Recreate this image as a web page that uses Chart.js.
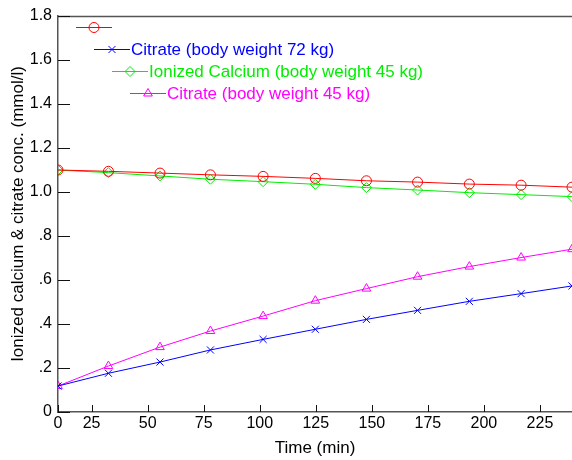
<!DOCTYPE html>
<html>
<head>
<meta charset="utf-8">
<script src="https://cdn.jsdelivr.net/npm/chart.js@4"></script>
<style>
  html, body { margin: 0; padding: 0; background: #fff; }
  #wrap { width: 572px; height: 460px; }
</style>
</head>
<body>
<div id="wrap"><canvas id="myChart"></canvas></div>
<script>
const ctx = document.getElementById('myChart');

// data
const time = [10, 32.5, 55.5, 78, 101.5, 124.8, 147.6, 170.4, 193.5, 216.6, 239.3];
const seriesRed = [1.10, 1.094, 1.086, 1.078, 1.071, 1.062, 1.051, 1.045, 1.036, 1.031, 1.022];
const citrate72 = [0.118, 0.176, 0.227, 0.282, 0.330, 0.376, 0.421, 0.462, 0.503, 0.538, 0.573];
const calcium45 = [1.10, 1.088, 1.073, 1.058, 1.047, 1.035, 1.02, 1.009, 0.997, 0.988, 0.979];
const citrate45 = [0.118, 0.209, 0.295, 0.368, 0.436, 0.506, 0.561, 0.615, 0.661, 0.702, 0.740];

const seriesNames = ['', 'Citrate (body weight 72 kg)', 'Ionized Calcium (body weight 45 kg)', 'Citrate (body weight 45 kg)'];
const xTicks = [10, 25, 50, 75, 100, 125, 150, 175, 200, 225];
const xTickLabels = ['0', '25', '50', '75', '100', '125', '150', '175', '200', '225'];
const yTickLabels = ['0', '.2', '.4', '.6', '.8', '1.0', '1.2', '1.4', '1.6', '1.8'];

const FONT = "'Liberation Sans', Arial, sans-serif";

function pts(ys) {
  return ys.map((y, i) => ({x: time[i], y: y}));
}

function makeSet(label, ys, color, style) {
  return {
    label: label,
    data: pts(ys),
    borderColor: color,
    backgroundColor: 'rgba(0,0,0,0)',
    borderWidth: 1,
    pointStyle: style,
    pointRadius: 5,
    pointBorderWidth: 1,
    pointBackgroundColor: 'rgba(0,0,0,0)',
    pointBorderColor: color,
    tension: 0
  };
}

const colors = ['#ff0000', '#0000ff', '#00ee00', '#ff00ff'];
const styles = ['circle', 'crossRot', 'rectRot', 'triangle'];

// staggered legend + inward ticks + top border
const extras = {
  id: 'extras',
  afterDraw(chart) {
    const c = chart.ctx;
    const a = chart.chartArea;
    const xs = chart.scales.x, ys = chart.scales.y;
    c.save();
    c.strokeStyle = '#555';
    c.lineWidth = 1.5;
    c.beginPath();
    c.moveTo(a.left, a.top + 0.5);
    c.lineTo(a.right, a.top + 0.5);
    c.stroke();
    c.strokeStyle = '#111';
    c.lineWidth = 1;
    xs.ticks.forEach(t => {
      const px = Math.round(xs.getPixelForValue(t.value)) + 0.5;
      c.beginPath();
      c.moveTo(px, a.bottom);
      c.lineTo(px, a.bottom - 7);
      c.stroke();
    });
    ys.ticks.forEach(t => {
      const py = Math.round(ys.getPixelForValue(t.value)) + 0.5;
      c.beginPath();
      c.moveTo(a.left, py);
      c.lineTo(a.left + 12, py);
      c.stroke();
    });

    // legend
    c.font = '17px ' + FONT;
    c.textBaseline = 'middle';
    chart.data.datasets.forEach((ds, i) => {
      const x0 = 76 + 18 * i;
      const y0 = 27 + 22 * i;
      c.strokeStyle = ds.borderColor;
      c.fillStyle = 'rgba(0,0,0,0)';
      c.lineWidth = 1;
      c.beginPath();
      c.moveTo(x0, y0 + 0.5);
      c.lineTo(x0 + 36, y0 + 0.5);
      c.stroke();
      Chart.helpers.drawPoint(c, {pointStyle: ds.pointStyle, radius: 5, borderWidth: 1}, x0 + 18, y0 + 0.5);
      c.fillStyle = ds.borderColor;
      c.fillText(seriesNames[i], x0 + 37, y0 + 1);
    });
    c.restore();
  }
};

new Chart(ctx, {
  type: 'line',
  data: {
    datasets: [
      makeSet(seriesNames[0], seriesRed, colors[0], styles[0]),
      makeSet(seriesNames[1], citrate72, colors[1], styles[1]),
      makeSet(seriesNames[2], calcium45, colors[2], styles[2]),
      makeSet(seriesNames[3], citrate45, colors[3], styles[3])
    ]
  },
  options: {
    responsive: true,
    maintainAspectRatio: false,
    animation: false,
    layout: { autoPadding: false, padding: { top: 16, left: 0, right: 0, bottom: 0 } },
    plugins: {
      legend: { display: false },
      tooltip: { enabled: false }
    },
    scales: {
      x: {
        type: 'linear',
        min: 10,
        max: 239.3,
        afterBuildTicks(scale) {
          scale.ticks = xTicks.map(v => ({value: v}));
        },
        afterFit(scale) {
          scale.height = 48;
          scale.paddingRight = 0;
          scale.paddingLeft = 0;
        },
        ticks: {
          color: '#000',
          font: { family: FONT, size: 16 },
          padding: 2,
          maxRotation: 0,
          callback: (v, i) => xTickLabels[i]
        },
        grid: { display: true, drawOnChartArea: false, drawTicks: false },
        border: { color: '#555', width: 1.5 },
        title: {
          display: true,
          text: 'Time (min)',
          color: '#000',
          font: { family: FONT, size: 17, lineHeight: 1.2 },
          padding: { top: 0, bottom: 1 }
        }
      },
      y: {
        min: 0,
        max: 1.8,
        afterFit(scale) { scale.width = 58; },
        ticks: {
          stepSize: 0.2,
          color: '#000',
          font: { family: FONT, size: 16 },
          padding: 6,
          callback: (v, i) => yTickLabels[i]
        },
        grid: { display: true, drawOnChartArea: false, drawTicks: false },
        border: { color: '#555', width: 1.5 },
        title: {
          display: true,
          text: 'Ionized calcium & citrate conc. (mmol/l)',
          color: '#000',
          font: { family: FONT, size: 17, lineHeight: 1.2 },
          padding: { top: 8, bottom: 0 }
        }
      }
    }
  },
  plugins: [extras]
});
</script>
</body>
</html>
